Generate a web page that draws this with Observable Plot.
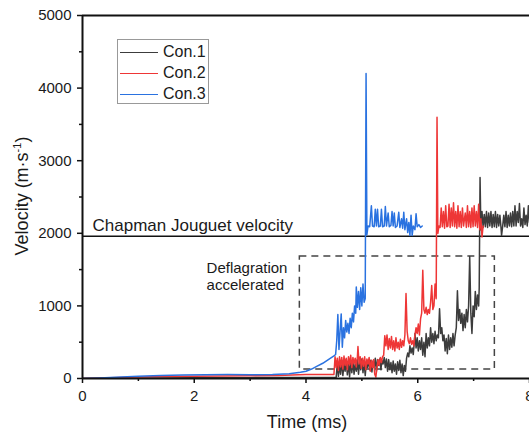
<!DOCTYPE html>
<html><head><meta charset="utf-8">
<script src="https://cdn.jsdelivr.net/npm/d3@7"></script>
<script src="https://cdn.jsdelivr.net/npm/@observablehq/plot@0.6"></script>
<style>
html,body{margin:0;padding:0;background:#fff;}
#wrap{position:relative;width:529px;height:439px;font-family:"Liberation Sans",Arial,sans-serif;color:#1a1a1a;overflow:hidden;}
.ylab{position:absolute;left:22px;top:196px;transform:translate(-50%,-50%) rotate(-90deg);font-size:18px;white-space:nowrap;}
.xlab{position:absolute;left:307px;top:413px;transform:translateX(-50%);font-size:18px;white-space:nowrap;line-height:1;}
.legend{position:absolute;left:117px;top:39px;width:92px;height:65px;border:1px solid #999;background:#fff;box-sizing:border-box;}
.lg{position:absolute;left:2px;height:20px;display:flex;align-items:center;font-size:16px;}
.lg span.sw{display:inline-block;width:38px;height:0;border-top:1.5px solid #000;margin-right:5px;}
</style></head>
<body><div id="wrap"></div>
<script>
// Data
const seriesNames = ["Con.1", "Con.2", "Con.3"];
const seriesColors = ["#3c3c3c", "#ee3636", "#2a72e0"];
const xMajor = [0, 2, 4, 6, 8];
const xMinor = [1, 3, 5, 7];
const yMajor = [0, 1000, 2000, 3000, 4000, 5000];
const yMinor = [500, 1500, 2500, 3500, 4500];
const cjVelocity = [1960];
const cjLabel = ["Chapman Jouguet velocity"];
const cjLabelX = 0.18;
const annoLabel = ["Deflagration\naccelerated"];
const annoX = 2.22, annoY = 1620;
const boxRegion = [{x1: 3.89, x2: 7.38, y1: 125, y2: 1680}];

const con1 = [
[0,0],[1,5],[2,10],[3,12],[4,15],[4.54,15],
[4.56,200],[4.58,30],[4.60,180],[4.62,60],[4.64,250],[4.66,40],[4.68,200],[4.70,100],[4.72,260],[4.74,50],[4.76,220],[4.78,20],[4.80,240],[4.82,80],[4.84,250],[4.86,60],[4.88,200],[4.90,100],[4.92,260],[4.94,60],[4.96,230],[4.98,120],[5.00,270],[5.02,80],[5.04,240],[5.06,40],[5.08,220],[5.10,150],[5.12,260],[5.14,120],[5.16,250],[5.18,90],[5.20,240],[5.22,150],[5.24,280],[5.26,100],[5.28,260],[5.30,180],[5.32,270],[5.34,120],[5.36,250],[5.38,200],[5.40,290],[5.42,150],[5.44,270],[5.46,100],[5.48,260],[5.50,120],[5.52,220],[5.54,80],[5.56,240],[5.58,100],[5.60,200],[5.62,60],[5.64,230],[5.66,110],[5.68,250],[5.70,80],[5.72,200],[5.74,40],[5.76,180],[5.78,100],[5.80,280],[5.82,350],[5.84,300],[5.86,450],[5.88,350],[5.90,420],[5.92,330],[5.95,620],[5.97,420],[5.99,560],[6.01,380],[6.03,520],[6.05,400],[6.07,560],[6.09,320],[6.11,500],[6.13,300],[6.15,620],[6.17,420],[6.19,560],[6.21,450],[6.23,700],[6.25,500],[6.27,620],[6.29,480],[6.31,650],[6.33,520],[6.35,600],[6.37,560],[6.39,960],[6.41,620],[6.43,700],[6.45,520],[6.47,600],[6.49,380],[6.51,550],[6.53,340],[6.55,600],[6.57,400],[6.59,560],[6.61,430],[6.63,620],[6.65,450],[6.67,600],[6.69,700],[6.71,1210],[6.73,800],[6.75,950],[6.77,760],[6.79,900],[6.81,660],[6.83,880],[6.85,700],[6.87,950],[6.89,780],[6.91,1000],[6.93,1680],[6.95,900],[6.97,620],[6.99,1000],[7.01,850],[7.03,1200],[7.05,950],[7.07,1150],[7.09,1000],[7.10,1250],
[7.115,2770],[7.13,2050],[7.15,2300],[7.17,2080],[7.19,2260],[7.21,2090],[7.23,2300],[7.25,2080],[7.27,2280],[7.29,2100],[7.31,2300],[7.33,2080],[7.35,2260],[7.37,2090],[7.39,2300],[7.41,2080],[7.43,2260],[7.45,2100],[7.47,2250],[7.49,2080],[7.50,1970],[7.52,2100],[7.54,2250],[7.56,2090],[7.58,2300],[7.60,2080],[7.62,2250],[7.64,2100],[7.66,2280],[7.68,2090],[7.70,2300],[7.72,2100],[7.74,2380],[7.76,2100],[7.78,2300],[7.80,2150],[7.82,2410],[7.84,2100],[7.86,2200],[7.88,2080],[7.90,2350],[7.92,2120],[7.94,2250],[7.96,2100],[7.98,2380],[8.0,2150]
];

const con2 = [
[0,0],[0.5,10],[1.0,20],[1.5,28],[2.0,32],[2.5,35],[3.0,38],[3.5,42],[4.0,55],[4.5,55],
[4.52,300],[4.54,150],[4.56,280],[4.58,110],[4.60,300],[4.62,160],[4.64,290],[4.66,130],[4.68,310],[4.70,180],[4.72,280],[4.74,120],[4.76,300],[4.78,190],[4.80,320],[4.82,150],[4.84,290],[4.86,200],[4.88,280],[4.90,160],[4.92,300],[4.93,440],[4.95,200],[4.97,300],[4.99,140],[5.01,280],[5.03,170],[5.05,300],[5.07,120],[5.09,270],[5.11,200],[5.13,290],[5.15,100],[5.17,250],[5.19,150],[5.21,260],[5.23,60],[5.25,20],[5.27,150],[5.29,260],[5.31,180],[5.33,290],[5.35,220],[5.37,300],[5.39,320],
[5.41,590],[5.43,450],[5.45,600],[5.47,400],[5.49,550],[5.51,420],[5.53,580],[5.55,400],[5.57,520],[5.59,380],[5.61,560],[5.63,420],[5.65,500],[5.67,400],[5.69,540],[5.71,430],[5.73,520],[5.75,450],[5.77,600],[5.79,1170],[5.81,650],[5.83,520],[5.85,480],[5.87,560],[5.89,470],[5.91,520],[5.93,450],[5.95,600],[5.97,700],[5.99,620],[6.01,750],[6.03,600],[6.05,820],[6.07,900],[6.09,1490],[6.11,950],[6.13,900],[6.15,980],[6.17,880],[6.19,950],[6.21,900],[6.23,1050],[6.25,1280],[6.27,950],[6.29,1000],[6.31,1300],[6.33,1100],
[6.345,3600],[6.36,2000],[6.38,2100],[6.40,2080],[6.42,2350],[6.44,2090],[6.46,2300],[6.48,2070],[6.50,2380],[6.52,2090],[6.54,2100],[6.56,2400],[6.58,2080],[6.60,2350],[6.62,2100],[6.64,2420],[6.66,2090],[6.68,2300],[6.70,2070],[6.72,2380],[6.74,2090],[6.76,2300],[6.78,2080],[6.80,2350],[6.82,2100],[6.85,2280],[6.87,2080],[6.89,2380],[6.91,2090],[6.93,2300],[6.95,2080],[6.97,2350],[6.99,2090],[7.01,2380],[7.03,2100],[7.05,2300],[7.07,2080],[7.09,2400],[7.11,2050],[7.13,2200],[7.15,1950],[7.17,2100]
];

const con3 = [
[0,0],[0.3,8],[0.6,18],[1.0,30],[1.4,40],[1.8,48],[2.2,52],[2.6,54],[3.0,52],[3.4,55],[3.7,65],[3.9,85],[4.0,100],[4.1,130],[4.2,170],[4.3,210],[4.4,260],[4.5,310],
[4.53,330],[4.55,520],[4.57,880],[4.59,400],[4.61,650],[4.63,890],[4.65,430],[4.67,700],[4.69,560],[4.71,800],[4.73,640],[4.75,760],[4.77,620],[4.79,830],[4.81,700],[4.83,900],[4.85,780],[4.87,1000],[4.89,900],[4.90,1260],[4.92,980],[4.94,1200],[4.96,950],[4.98,1250],[5.00,1000],[5.02,1300],[5.04,1050],[5.06,1100],
[5.075,4200],[5.09,1980],[5.11,2100],[5.14,2090],[5.17,2380],[5.19,2100],[5.22,2090],[5.24,2330],[5.26,2100],[5.28,2330],[5.30,2090],[5.33,2100],[5.35,2330],[5.37,2090],[5.40,2100],[5.42,2370],[5.44,2100],[5.47,2280],[5.49,2090],[5.52,2110],[5.54,2300],[5.56,2100],[5.58,2280],[5.60,2080],[5.63,2100],[5.66,2290],[5.68,2080],[5.71,2200],[5.73,2070],[5.75,2290],[5.77,2050],[5.80,2200],[5.82,2010],[5.84,2150],[5.86,1970],[5.88,2250],[5.90,1970],[5.92,2100],[5.95,2050],[5.97,2270],[5.99,2090],[6.02,2120],[6.05,2080],[6.08,2100]
];

const seriesData = [con1, con2, con3];
const font = "Liberation Sans, Arial, sans-serif";

const chart = Plot.plot({
  width: 529, height: 439,
  marginTop: 15, marginBottom: 61, marginLeft: 82, marginRight: 0,
  x: {domain: [0, 8]},
  y: {domain: [0, 5000]},
  style: {fontFamily: font, fontSize: "15px", color: "#1a1a1a", background: "transparent", overflow: "visible"},
  marks: [
    Plot.rect(boxRegion, {x1: "x1", x2: "x2", y1: "y1", y2: "y2", fill: "none", stroke: "#444", strokeWidth: 1.5, strokeDasharray: "7,5"}),
    Plot.ruleY(cjVelocity, {stroke: "#111", strokeWidth: 1.5}),
    ...seriesData.map((s, i) => Plot.line(s, {x: d => d[0], y: d => d[1], stroke: seriesColors[i], strokeWidth: 1.5, clip: true})),
    Plot.ruleX([0], {stroke: "#111", strokeWidth: 2}),
    Plot.ruleY([0], {stroke: "#111", strokeWidth: 2}),
    Plot.ruleY([5000], {stroke: "#111", strokeWidth: 1.8}),
    Plot.axisX({ticks: xMajor, tickSize: 5, tickPadding: 7, strokeWidth: 1.5, stroke: "#111", fontSize: 15, label: null, tickFormat: d => String(d)}),
    Plot.axisX({ticks: xMinor, tickSize: 3, strokeWidth: 1.5, stroke: "#111", label: null, tickFormat: () => ""}),
    Plot.axisY({ticks: yMajor, tickSize: 5, tickPadding: 6, strokeWidth: 1.5, stroke: "#111", fontSize: 15, label: null, tickFormat: d => String(d)}),
    Plot.axisY({ticks: yMinor, tickSize: 3, strokeWidth: 1.5, stroke: "#111", label: null, tickFormat: () => ""}),
    Plot.text(cjLabel, {x: cjLabelX, y: cjVelocity[0], text: d => d, textAnchor: "start", lineAnchor: "bottom", dy: -5, fontSize: 17, fill: "#1a1a1a"}),
    Plot.text(annoLabel, {x: annoX, y: annoY, text: d => d, textAnchor: "start", lineAnchor: "top", lineHeight: 1.13, fontSize: 15, fill: "#1a1a1a"})
  ]
});

const wrap = document.getElementById("wrap");
wrap.appendChild(chart);

const yl = document.createElement("div");
yl.className = "ylab";
yl.innerHTML = "Velocity (m·s<sup style='font-size:11px;vertical-align:7px'>-1</sup>)";
wrap.appendChild(yl);

const xl = document.createElement("div");
xl.className = "xlab";
xl.textContent = "Time (ms)";
wrap.appendChild(xl);

const lg = document.createElement("div");
lg.className = "legend";
seriesNames.forEach((n, i) => {
  const row = document.createElement("div");
  row.className = "lg";
  row.style.top = (2 + i * 21) + "px";
  row.innerHTML = `<span class="sw" style="border-top-color:${seriesColors[i]}"></span>${n}`;
  lg.appendChild(row);
});
wrap.appendChild(lg);
</script>
</body></html>
